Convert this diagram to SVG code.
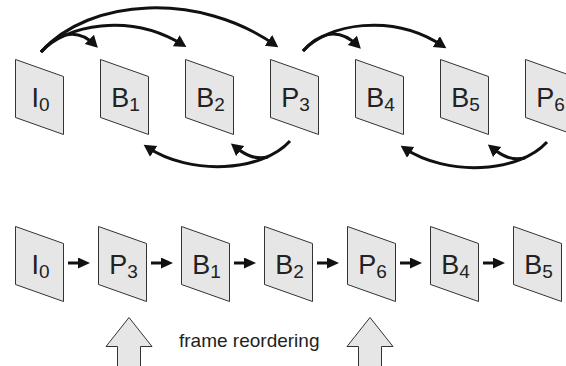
<svg xmlns="http://www.w3.org/2000/svg" width="566" height="366" viewBox="0 0 566 366">
  <defs>
    <style>
      .frame { fill: #e6e6e6; stroke: #333; stroke-width: 1; }
      .lbl { font-family: "Liberation Sans", Arial, sans-serif; font-size: 27px; fill: #222; text-anchor: middle; }
      .sub { font-size: 19px; }
      .curve { fill: none; stroke: #111; stroke-width: 3; }
      .link { fill: none; stroke: #111; stroke-width: 3; }
      .big { fill: #e6e6e6; stroke: #333; stroke-width: 1; }
      .cap { font-family: "Liberation Sans", Arial, sans-serif; font-size: 19px; fill: #222; }
    </style>
    <marker id="head" markerUnits="userSpaceOnUse" markerWidth="14" markerHeight="14" refX="8" refY="6.5" orient="auto">
      <path d="M0,0 L12,6.5 L0,13 z" fill="#111"/>
    </marker>
    <marker id="head-s" markerUnits="userSpaceOnUse" markerWidth="13" markerHeight="12" refX="2" refY="5.5" orient="auto">
      <path d="M0,0 L12,5.5 L0,11 z" fill="#111"/>
    </marker>
    <!-- slanted frame shape, 48 wide -->
    <path id="pg" d="M0,0 L48,17 L48,75 L0,58 z"/>
  </defs>

  <!-- display order (top row) -->
  <g id="top-I0" transform="translate(15.5,59.5)"><use href="#pg" class="frame"/><text class="lbl" x="25" y="47">I<tspan class="sub" dy="4">0</tspan></text></g>
  <g id="top-B1" transform="translate(100.5,59.5)"><use href="#pg" class="frame"/><text class="lbl" x="25" y="47">B<tspan class="sub" dy="4">1</tspan></text></g>
  <g id="top-B2" transform="translate(185.5,59.5)"><use href="#pg" class="frame"/><text class="lbl" x="25" y="47">B<tspan class="sub" dy="4">2</tspan></text></g>
  <g id="top-P3" transform="translate(270.5,59.5)"><use href="#pg" class="frame"/><text class="lbl" x="25" y="47">P<tspan class="sub" dy="4">3</tspan></text></g>
  <g id="top-B4" transform="translate(355.5,59.5)"><use href="#pg" class="frame"/><text class="lbl" x="25" y="47">B<tspan class="sub" dy="4">4</tspan></text></g>
  <g id="top-B5" transform="translate(440.5,59.5)"><use href="#pg" class="frame"/><text class="lbl" x="25" y="47">B<tspan class="sub" dy="4">5</tspan></text></g>
  <g id="top-P6" transform="translate(525.5,59.5)"><use href="#pg" class="frame"/><text class="lbl" x="25" y="47">P<tspan class="sub" dy="4">6</tspan></text></g>

  <!-- coding order (bottom row) -->
  <g id="bot-I0" transform="translate(15.5,226.5)"><use href="#pg" class="frame"/><text class="lbl" x="25" y="47">I<tspan class="sub" dy="4">0</tspan></text></g>
  <g id="bot-P3" transform="translate(98.5,226.5)"><use href="#pg" class="frame"/><text class="lbl" x="25" y="47">P<tspan class="sub" dy="4">3</tspan></text></g>
  <g id="bot-B1" transform="translate(181.5,226.5)"><use href="#pg" class="frame"/><text class="lbl" x="25" y="47">B<tspan class="sub" dy="4">1</tspan></text></g>
  <g id="bot-B2" transform="translate(264.5,226.5)"><use href="#pg" class="frame"/><text class="lbl" x="25" y="47">B<tspan class="sub" dy="4">2</tspan></text></g>
  <g id="bot-P6" transform="translate(347.5,226.5)"><use href="#pg" class="frame"/><text class="lbl" x="25" y="47">P<tspan class="sub" dy="4">6</tspan></text></g>
  <g id="bot-B4" transform="translate(430.5,226.5)"><use href="#pg" class="frame"/><text class="lbl" x="25" y="47">B<tspan class="sub" dy="4">4</tspan></text></g>
  <g id="bot-B5" transform="translate(513.5,226.5)"><use href="#pg" class="frame"/><text class="lbl" x="25" y="47">B<tspan class="sub" dy="4">5</tspan></text></g>

  <g id="connectors">
    <!-- forward references from I0 -->
    <path class="curve" marker-end="url(#head)" d="M41,52 C90,-3 200,-8 275,45"/>
    <path class="curve" marker-end="url(#head)" d="M41,52 C65,25 130,12 183,45"/>
    <path class="curve" marker-end="url(#head)" d="M41,52 C55,36 75,25 95,45"/>
    <!-- forward references from P3 -->
    <path class="curve" marker-end="url(#head)" d="M303,51 C327,24 392,12 443,46"/>
    <path class="curve" marker-end="url(#head)" d="M303,51 C317,35 337,25 358,46"/>
    <!-- backward references from P3 -->
    <path class="curve" marker-end="url(#head)" d="M290,141 C262,172 190,176 147,147"/>
    <path class="curve" marker-end="url(#head)" d="M268,157 C255,160 245,155 234,146"/>
    <!-- backward references from P6 -->
    <path class="curve" marker-end="url(#head)" d="M547,142 C519,173 447,177 404,148"/>
    <path class="curve" marker-end="url(#head)" d="M525,158 C512,161 502,156 491,147"/>

    <!-- coding order links -->
    <path class="link" marker-end="url(#head-s)" d="M68,263 H80"/>
    <path class="link" marker-end="url(#head-s)" d="M151,263 H163"/>
    <path class="link" marker-end="url(#head-s)" d="M234,263 H246"/>
    <path class="link" marker-end="url(#head-s)" d="M317,263 H329"/>
    <path class="link" marker-end="url(#head-s)" d="M400,263 H412"/>
    <path class="link" marker-end="url(#head-s)" d="M483,263 H495"/>
  </g>

  <g id="reordering">
    <path class="big" d="M129,317.5 L152,346.5 L140.5,346.5 L140.5,370 L117.5,370 L117.5,346.5 L106,346.5 z"/>
    <path class="big" d="M370,317.5 L393,346.5 L381.5,346.5 L381.5,370 L358.5,370 L358.5,346.5 L347,346.5 z"/>
    <text class="cap" x="179" y="347">frame reordering</text>
  </g>
</svg>
